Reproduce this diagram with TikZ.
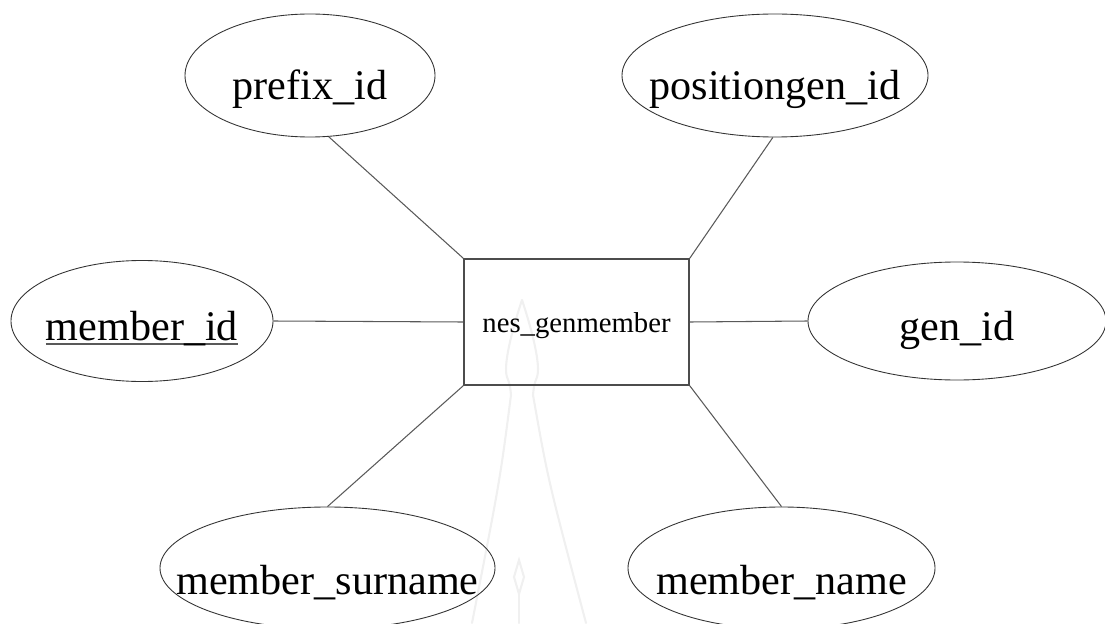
\documentclass[tikz,border=0pt]{standalone}
\usepackage{fontspec}
\setmainfont{Liberation Serif}
\usetikzlibrary{shapes.geometric,calc}
\newcommand{\keyul}[1]{\setbox0\hbox{#1}\rlap{\color{black!65}\rule[-3.2pt]{\wd0}{1.1pt}}\box0}
\newcommand{\zw}[1]{\makebox[0pt]{#1}}
\tikzset{
  attr/.style={ellipse, draw=black!80, line width=0.75pt, inner sep=0pt,
    font=\fontsize{36}{40}\selectfont, text depth=0pt, text height=#1},
  attr/.default=41pt,
  entitybox/.style={rectangle, draw=black!70, line width=1.3pt, inner sep=0pt,
    minimum width=6.75cm, minimum height=3.78cm,
    font=\fontsize{24.5}{28}\selectfont, text depth=0pt, text height=18.5pt},
  link/.style={draw=black!65, line width=0.9pt},
  wmark/.style={draw=black!6, line width=1.8pt, line cap=round}
}
\begin{document}
\begin{tikzpicture}[x=0.03cm, y=-0.03cm]
\useasboundingbox (0,0) rectangle (1105,623);
\clip (0,0) rectangle (1105,623);
% faint watermark
\draw[wmark] (522,300) .. controls (512,330) and (503,365) .. (507,377)
  .. controls (510,385) .. (511,395) .. controls (500,480) .. (472,623);
\draw[wmark] (522,300) .. controls (532,330) and (541,365) .. (537,377)
  .. controls (534,385) .. (533,395) .. controls (548,480) .. (586,623);
\draw[wmark] (519,560) -- (514,577) -- (519,594) -- (524,577) -- cycle;
\draw[wmark] (519,594) -- (519,623);
% entity
\node[entitybox] (ent) at (576.5,322) {nes\_genmember};
% attributes
\node[attr, minimum width=7.5cm, minimum height=3.69cm] (pre) at (310,75.5) {\zw{prefix\_id}};
\node[attr, minimum width=9.18cm, minimum height=3.69cm] (pos) at (775,75.5) {\zw{positiongen\_id}};
\node[attr=34pt, minimum width=7.86cm, minimum height=3.63cm] (mid) at (142,321) {\zw{\keyul{member\_id}}};
\node[attr=34pt, minimum width=8.94cm, minimum height=3.54cm] (gen) at (957,321) {\zw{gen\_id}};
\node[attr=45pt, minimum width=10.05cm, minimum height=3.66cm] (sur) at (327.5,568) {\zw{member\_surname}};
\node[attr=45pt, minimum width=9.21cm, minimum height=3.66cm] (nam) at (781.5,568) {\zw{member\_name}};
% connectors
\draw[link] (pre.-73) -- (ent.north west);
\draw[link] (pos.-92) -- (ent.north east);
\draw[link] (mid.east) -- (ent.west);
\draw[link] (ent.east) -- (gen.west);
\draw[link] (ent.south west) -- (sur.north);
\draw[link] (ent.south east) -- (nam.north);
\end{tikzpicture}
\end{document}
